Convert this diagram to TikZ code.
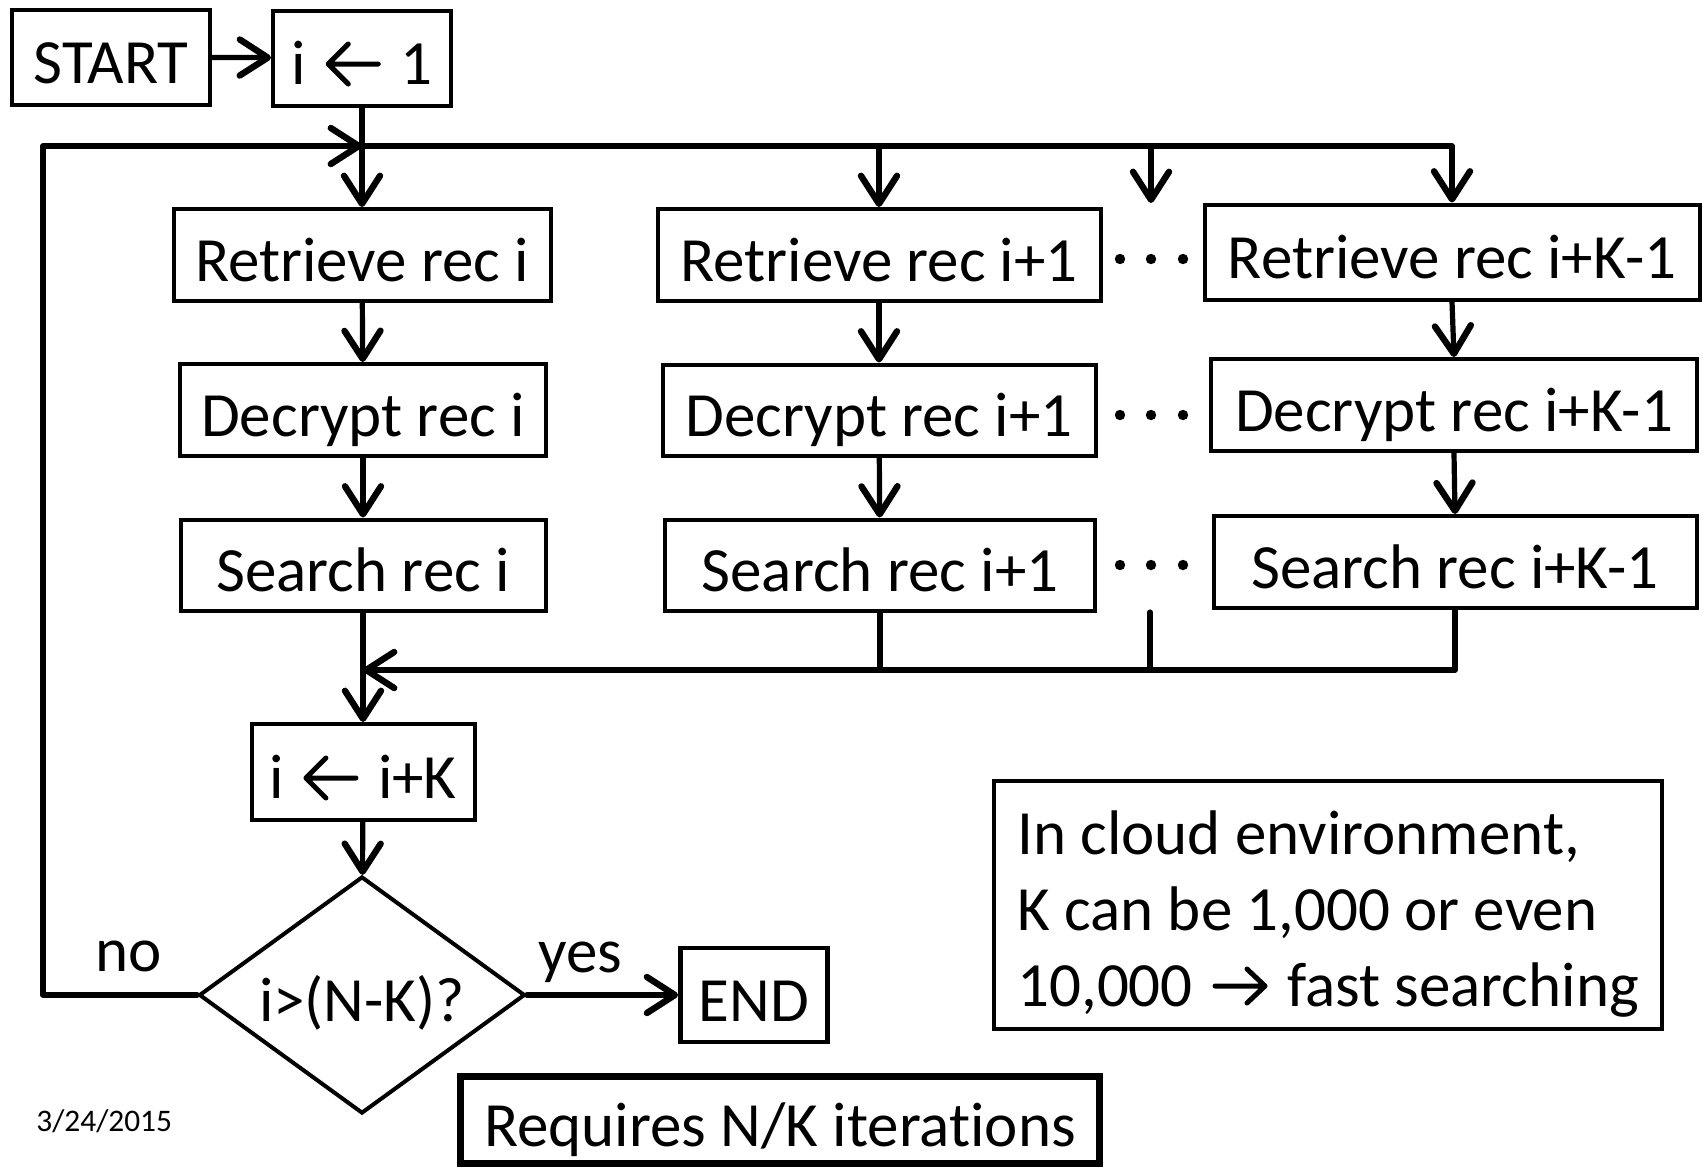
\documentclass[tikz,border=0pt]{standalone}
\usepackage{fontspec}
\setmainfont{Carlito}[Ligatures=CommonOff]
\usetikzlibrary{arrows.meta,shapes.geometric}

\newcommand\diagfont{\fontsize{31.5}{38}\selectfont}
% arrow glyphs used inside the text
\newcommand\leftglyph{\tikz[baseline=0pt]{\useasboundingbox (0pt,0pt) rectangle (33pt,20pt);
  \draw[line width=2.5pt,line cap=round,line join=round] (29pt,10pt) -- (4pt,10pt) (14pt,20pt) -- (4pt,10pt) -- (14pt,0pt);}}
\newcommand\rightglyph{\tikz[baseline=0pt]{\useasboundingbox (0pt,0pt) rectangle (33pt,20pt);
  \draw[line width=2.5pt,line cap=round,line join=round] (4pt,10pt) -- (29pt,10pt) (20pt,18.5pt) -- (29pt,10pt) -- (20pt,1.5pt);}}

\begin{document}
\begin{tikzpicture}[x=0.5pt,y=-0.5pt,
  box/.style={draw, line width=2pt, inner sep=0pt, font=\diagfont, text height=28pt, text depth=2pt},
  conn/.style={line width=2.6pt, line cap=round, line join=round},
  bus/.style={line width=2.9pt, line cap=round, line join=round},
  tip/.style={-{Straight Barb[length=14pt,width=18pt,line width=3.2pt,round]}},
  label/.style={font=\diagfont, inner sep=0pt, anchor=base west}]

\fill[white] (0,0) rectangle (1705,1169);

% start and initialisation
\node[box, minimum width=99pt, minimum height=47.5pt] (start) at (111,57) {START};
\node[box, minimum width=89pt, minimum height=47.5pt] (init) at (362,58) {i \leftglyph{} 1};

% column 1
\node[box, minimum width=188.5pt, minimum height=46pt] (r1) at (362,255) {Retrieve rec i};
\node[box, minimum width=183pt, minimum height=46pt] (d1) at (363,410) {Decrypt rec i};
\node[box, minimum width=182.5pt, minimum height=45.5pt] (s1) at (363,565) {Search rec i};

% column 2
\node[box, minimum width=221.5pt, minimum height=46pt] (r2) at (879,255) {Retrieve rec i+1};
\node[box, minimum width=216.5pt, minimum height=45.5pt] (d2) at (879,410) {Decrypt rec i+1};
\node[box, minimum width=215pt, minimum height=45.5pt] (s2) at (880,565) {Search rec i+1};

% column K
\node[box, minimum width=247.5pt, minimum height=47.5pt] (r3) at (1452,252) {Retrieve rec i+K-1};
\node[box, minimum width=243pt, minimum height=46pt] (d3) at (1454,405) {Decrypt rec i+K-1};
\node[box, minimum width=241.5pt, minimum height=46pt] (s3) at (1455,562) {Search rec i+K-1};

% increment, test, end
\node[box, minimum width=111.5pt, minimum height=48pt] (inc) at (363,772) {i \leftglyph{} i+K};
\node[box, diamond, aspect=1.37, minimum width=163pt, minimum height=118.5pt] (dec) at (362,995) {i>(N-K)?};
\node[box, line width=2.4pt, minimum width=73.5pt, minimum height=47pt] (end) at (754,995) {END};

% notes
\node[box, minimum width=334pt, minimum height=124pt] (cloud) at (1328,905) {};
\node[label] (c1) at (1017,854) {In cloud environment,};
\node[label] (c2) at (1017,930) {K can be 1,000 or even};
\node[label] (c3) at (1017,1006) {10,000 \rightglyph{} fast searching};
\node[box, line width=3.5pt, minimum width=319.5pt, minimum height=43.5pt] (req) at (780,1120) {Requires N/K iterations};
\node[label, font=\fontsize{15.7}{19}\selectfont] (date) at (36,1131) {3/24/2015};

% branch labels
\node[label] (no) at (95,971) {no};
\node[label] (yes) at (538,972) {yes};

% helper points
\coordinate (jtop) at (362,146);
\coordinate (jbot) at (363,670);
\coordinate (loopcorner) at (43,995);
\coordinate (gaptop) at (1151,203);
\coordinate (gapbot) at (1150,612);

% ellipsis between columns
\foreach \yy in {259,415,565}{
  \foreach \xx in {1120,1151,1183}{
    \fill (\xx,\yy) circle (2.6pt);
  }
}

% connectors
\draw[conn, tip] (start) -- (init);
\draw[conn, tip] (init) -- (r1);
\draw[bus, tip] (dec.west) -- (loopcorner) |- (jtop);
\draw[bus, tip] (jtop) -| (r3.north);
\draw[conn, tip] (r2.north |- jtop) -- (r2.north);
\draw[conn, tip] (gaptop |- jtop) -- (gaptop);

\draw[conn, tip] (r1) -- (d1);
\draw[conn, tip] (d1) -- (s1);
\draw[conn, tip] (r2) -- (d2);
\draw[conn, tip] (d2) -- (s2);
\draw[conn, tip] (r3.south) -- (d3.north);
\draw[conn, tip] (d3.south) -- (s3.north);

\draw[bus, tip] (s3.south) |- (jbot);
\draw[conn] (s2.south) -- (s2.south |- jbot);
\draw[conn] (gapbot) -- (gapbot |- jbot);
\draw[conn, tip] (s1) -- (inc);
\draw[conn, tip] (inc) -- (dec);
\draw[bus, tip] (dec.east) -- (end.west);

\end{tikzpicture}
\end{document}
